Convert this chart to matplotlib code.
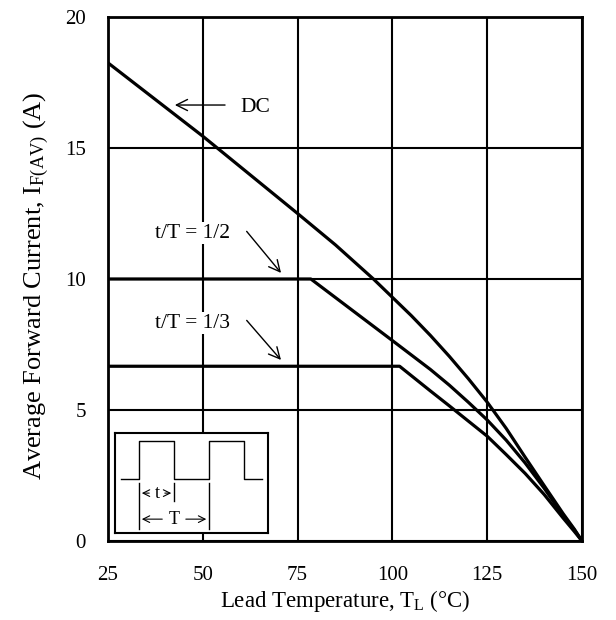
import matplotlib
matplotlib.use("Agg")
import matplotlib.pyplot as plt
import numpy as np

plt.rcParams['font.family'] = ['Liberation Serif', 'DejaVu Serif']
plt.rcParams['mathtext.fontset'] = 'custom'
plt.rcParams['mathtext.rm'] = 'Liberation Serif'
plt.rcParams['mathtext.it'] = 'Liberation Serif:italic'

# curve data (lead temperature in degC, current in A)
dc_t = [25, 50, 75, 85, 95, 100, 105, 110, 115, 120, 125, 130, 135, 140, 145, 148, 150]
dc_i = [18.25, 15.45, 12.5, 11.3, 10.0, 9.3, 8.6, 7.85, 7.05, 6.2, 5.3, 4.3, 3.2, 2.12, 1.05, 0.45, 0.0]

half_t = [25, 78.5, 100, 105, 110, 115, 120, 125, 130, 135, 140, 145, 148, 150]
half_i = [10.0, 10.0, 7.65, 7.1, 6.55, 5.95, 5.3, 4.62, 3.85, 2.98, 2.02, 0.98, 0.42, 0.0]

third_t = [25, 101.9, 110, 115, 120, 125, 130, 135, 140, 145, 148, 150]
third_i = [6.67, 6.67, 5.73, 5.16, 4.58, 4.0, 3.3, 2.58, 1.78, 0.88, 0.36, 0.0]

x_ticks = [25, 50, 75, 100, 125, 150]
y_ticks = [0, 5, 10, 15, 20]

fig = plt.figure(figsize=(6.16, 6.20), dpi=100)
ax = fig.add_axes([0.1753, 0.1274, 0.7695, 0.8452])

for xs, ys in [(dc_t, dc_i), (half_t, half_i), (third_t, third_i)]:
    ax.plot(xs, ys, color='black', lw=2.3, solid_joinstyle='round',
            solid_capstyle='round', zorder=3)

ax.set_xlim(25, 150)
ax.set_ylim(0, 20)
ax.set_xticks(x_ticks)
ax.set_yticks(y_ticks)
ax.tick_params(length=0, labelsize=15)
ax.tick_params(axis='x', pad=18)
ax.tick_params(axis='y', pad=16)
ax.grid(True, color='black', lw=1.5)
for s in ax.spines.values():
    s.set_linewidth(2.0)

ax.set_xlabel('Lead Temperature, T$_{\\mathrm{L}}$ (\u00b0C)', fontsize=16.5, labelpad=2)
ax.set_ylabel('Average Forward Current, I$_{\\mathrm{F(AV)}}$ (A)', fontsize=19)
ax.yaxis.set_label_coords(-0.121, 0.487)

# annotations
arrow = dict(arrowstyle='->', color='black', lw=1.0, mutation_scale=20)
ax.annotate('', xy=(41.9, 16.64), xytext=(56.6, 16.64), arrowprops=arrow)
ax.text(59.8, 16.55, 'DC', fontsize=15.5, va='center', ha='left')

ax.text(47.4, 11.75, 't/T = 1/2', fontsize=15.5, va='center', ha='center',
        bbox=dict(fc='white', ec='none', pad=1))
ax.annotate('', xy=(71.1, 10.15), xytext=(61.1, 11.9), arrowprops=arrow)

ax.text(47.4, 8.32, 't/T = 1/3', fontsize=15.5, va='center', ha='center',
        bbox=dict(fc='white', ec='none', pad=1))
ax.annotate('', xy=(71.1, 6.83), xytext=(61.1, 8.5), arrowprops=arrow)

# inset with pulse waveform
ins = ax.inset_axes([0.0148, 0.015, 0.323, 0.191])
ins.set_xlim(0, 153)
ins.set_ylim(0, 100)
ins.set_xticks([])
ins.set_yticks([])
for s in ins.spines.values():
    s.set_linewidth(1.5)
ins.set_zorder(5)

wave_x = [6, 24, 24, 59, 59, 94, 94, 129, 129, 147]
wave_y = [54, 54, 92, 92, 54, 54, 92, 92, 54, 54]
ins.plot(wave_x, wave_y, color='black', lw=1.0)
ins.plot([24, 24], [50, 4], color='black', lw=1.0)
ins.plot([59, 59], [50, 32], color='black', lw=1.0)
ins.plot([94, 94], [50, 4], color='black', lw=1.0)

small = dict(arrowstyle='->', color='black', lw=0.8, mutation_scale=12)
ins.annotate('', xy=(24, 40), xytext=(37, 40), arrowprops=small)
ins.annotate('', xy=(59, 40), xytext=(47, 40), arrowprops=small)
ins.text(42, 40, 't', fontsize=13, ha='center', va='center')
ins.annotate('', xy=(24, 14), xytext=(50, 14), arrowprops=small)
ins.annotate('', xy=(94, 14), xytext=(68, 14), arrowprops=small)
ins.text(59, 14, 'T', fontsize=13, ha='center', va='center')

fig.savefig('out.png', dpi=100)
